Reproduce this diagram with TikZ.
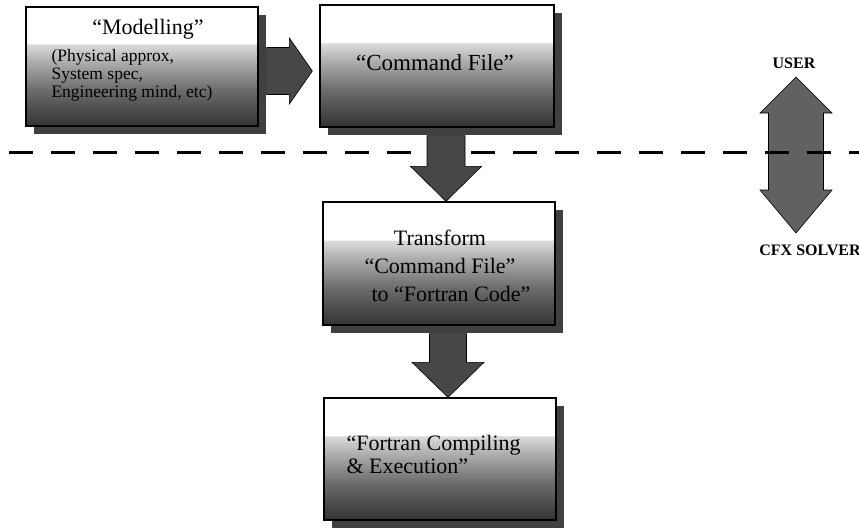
\documentclass[tikz,border=0pt]{standalone}
\usepackage{fontspec}
\setmainfont{Liberation Serif}
\usetikzlibrary{calc,shadows}
\pgfdeclareverticalshading{boxshade}{100bp}{color(0bp)=(black!80); color(25bp)=(black!80); color(40bp)=(black!58); color(52bp)=(black!32); color(59.4bp)=(black!14); color(59.6bp)=(white); color(100bp)=(white)}
\tikzset{
  box/.style={draw=black, line width=1.3pt, shade, shading=boxshade, inner sep=0pt,
    drop shadow={shadow xshift=8pt, shadow yshift=-8pt, fill=black!75, opacity=1}},
  fat/.style={fill=black!72, draw=black, line width=0.6pt},
  fatlight/.style={fill=black!62, draw=black, line width=0.6pt},
  sepline/.style={line width=3.5pt, dash pattern=on 24pt off 18pt, dash phase=33pt},
  lbl/.style={inner sep=0pt, font=\fontsize{22}{26}\selectfont},
  side/.style={inner sep=0pt, font=\fontsize{16}{18}\selectfont\bfseries}
}
\newcommand\fatrightarrow[5]{% start, tip, half shaft, half head, head length
  \draw[fat] ($(#1)+(0,-#3)$) -- ($(#2)+(-#5,-#3)$) -- ($(#2)+(-#5,-#4)$) -- (#2)
    -- ($(#2)+(-#5,#4)$) -- ($(#2)+(-#5,#3)$) -- ($(#1)+(0,#3)$) -- cycle;}
\newcommand\fatdownarrow[5]{%
  \draw[fat] ($(#1)+(-#3,0)$) -- ($(#2)+(-#3,-#5)$) -- ($(#2)+(-#4,-#5)$) -- (#2)
    -- ($(#2)+(#4,-#5)$) -- ($(#2)+(#3,-#5)$) -- ($(#1)+(#3,0)$) -- cycle;}
\begin{document}
\begin{tikzpicture}[x=1pt,y=-1pt]
\useasboundingbox (0,0) rectangle (859,528);

% separation line endpoints and double arrow
\coordinate (sepL) at (0,152.5);
\coordinate (sepR) at (859,152.5);
\node[side] (user) at (794,63) {USER};
\node[side] (solver) at (810,250) {CFX SOLVER};
\coordinate (utip) at (796,77);
\coordinate (ltip) at (796,233);
\draw[fatlight] (utip) -- ($(utip)+(36,36)$) -- ($(utip)+(27.5,36)$) -- ($(ltip)+(27.5,-43)$)
  -- ($(ltip)+(36,-43)$) -- (ltip) -- ($(ltip)+(-36,-43)$) -- ($(ltip)+(-27.5,-43)$)
  -- ($(utip)+(-27.5,36)$) -- ($(utip)+(-36,36)$) -- cycle;
\draw[sepline] (sepL) -- (sepR);

% boxes (positions)
\path (142,66.5) node[box, minimum width=232pt, minimum height=119pt] (model) {};
\path (437,66) node[box, minimum width=234pt, minimum height=122pt] (cmd) {};
\path (439,263.5) node[box, minimum width=232pt, minimum height=123pt] (trans) {};
\path (440,459) node[box, minimum width=232pt, minimum height=122pt] (fort) {};

% arrows between boxes
\coordinate (a1s) at ($(model.east)+(8,4.5)$);
\coordinate (a1t) at ($(cmd.west)+(-7,5)$);
\fatrightarrow{a1s}{a1t}{23.5}{33}{23}
\coordinate (a2s) at ($(cmd.south)+(9,8)$);
\coordinate (a2t) at ($(trans.north)+(7,0)$);
\fatdownarrow{a2s}{a2t}{19}{35.5}{35}
\coordinate (a3s) at ($(trans.south)+(9,8)$);
\coordinate (a3t) at ($(fort.north)+(8,0)$);
\fatdownarrow{a3s}{a3t}{18.5}{36}{35}

% texts
\node[lbl] (mtitle) at ($(model.north)+(6,23)$) {“Modelling”};
\node[inner sep=0pt, anchor=west, align=left, font=\fontsize{17.5}{18}\selectfont] (msub) at ($(model.west)+(26,8.5)$)
  {(Physical approx,\\System spec,\\Engineering mind, etc)};
\node[lbl, font=\fontsize{23}{26}\selectfont] (ctext) at ($(cmd.center)+(-2,-3)$) {“Command File”};
\node[lbl, align=center, font=\fontsize{22}{28}\selectfont] (ttext) at ($(trans.center)+(1,2)$)
  {Transform\\“Command File”\\\hspace*{22pt}to “Fortran Code”};
\node[lbl, anchor=west, align=left, font=\fontsize{22}{23}\selectfont] (ftext) at ($(fort.west)+(23,-5)$)
  {“Fortran Compiling\\\& Execution”};
\end{tikzpicture}
\end{document}
